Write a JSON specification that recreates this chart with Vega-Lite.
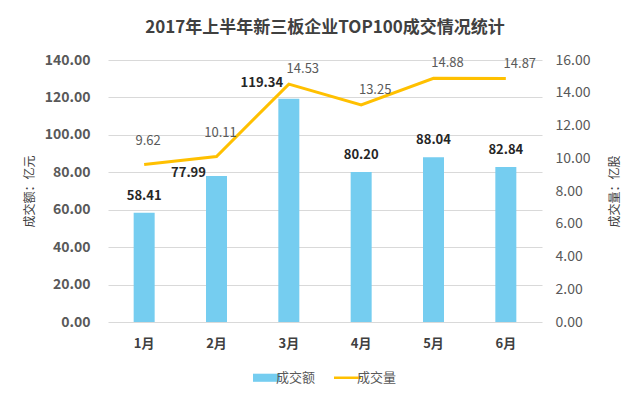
{
  "$schema": "https://vega.github.io/schema/vega-lite/v6.json",
  "width": 434,
  "height": 262,
  "autosize": {"type": "none"},
  "padding": {"left": 108, "top": 60, "right": 98, "bottom": 77},
  "background": "white",
  "title": {
    "text": "2017年上半年新三板企业TOP100成交情况统计",
    "font": "Noto Sans CJK SC",
    "fontSize": 17,
    "fontWeight": "bold",
    "color": "#404040",
    "offset": 16,
    "anchor": "middle"
  },
  "data": {
    "values": [
      {"month": "1月", "amount": 58.41, "volume": 9.62},
      {"month": "2月", "amount": 77.99, "volume": 10.11},
      {"month": "3月", "amount": 119.34, "volume": 14.53},
      {"month": "4月", "amount": 80.20, "volume": 13.25},
      {"month": "5月", "amount": 88.04, "volume": 14.88},
      {"month": "6月", "amount": 82.84, "volume": 14.87}
    ]
  },
  "config": {
    "font": "Noto Sans CJK SC",
    "view": {"stroke": null}
  },
  "encoding": {
    "x": {
      "field": "month",
      "type": "nominal",
      "sort": null,
      "scale": {"paddingInner": 0, "paddingOuter": 0},
      "axis": {
        "title": null,
        "labelAngle": 0,
        "labelFont": "Noto Sans CJK SC",
        "labelFontSize": 13,
        "labelFontWeight": "bold",
        "labelColor": "#404040",
        "labelPadding": 15,
        "domain": false,
        "ticks": false
      }
    }
  },
  "layer": [
    {
      "encoding": {
        "y": {
          "field": "amount",
          "type": "quantitative",
          "scale": {"domain": [0, 140]},
          "axis": {
            "title": "成交额：亿元",
            "titleFont": "Noto Sans CJK SC",
            "titleFontSize": 12,
            "titleFontWeight": "normal",
            "titleColor": "#404040",
            "titleAngle": 270,
            "titlePadding": 8,
            "values": [0, 20, 40, 60, 80, 100, 120, 140],
            "format": ".2f",
            "labelOverlap": false,
            "labelFontSize": 14,
            "labelFontWeight": "bold",
            "labelColor": "#595959",
            "labelPadding": 18,
            "grid": true,
            "gridColor": "#d9d9d9",
            "domain": false,
            "ticks": false
          }
        }
      },
      "layer": [
        {
          "mark": {"type": "bar", "width": 21, "color": "#75CDF0"},
          "encoding": {
            "color": {
              "datum": "成交额",
              "type": "nominal",
              "scale": {"domain": ["成交额", "成交量"], "range": ["#75CDF0", "#FFC000"]},
              "legend": {
                "title": null,
                "orient": "none",
                "legendX": 152,
                "legendY": 311,
                "direction": "horizontal",
                "labelFontSize": 13,
                "labelColor": "#595959",
                "labelOffset": 3,
                "columnPadding": 13,
                "symbolSize": 729,
                "encode": {
                  "symbols": {
                    "update": {
                      "shape": {"signal": "datum.value == '成交额' ? 'M-1,-0.3L1,-0.3L1,0.3L-1,0.3Z' : 'M-1,0L1,0'"},
                      "fill": {"signal": "datum.value == '成交额' ? '#75CDF0' : 'transparent'"},
                      "stroke": {"signal": "datum.value == '成交额' ? '#75CDF0' : '#FFC000'"},
                      "strokeWidth": {"signal": "datum.value == '成交额' ? 0 : 2.5"},
                      "opacity": {"value": 1}
                    }
                  }
                }
              }
            }
          }
        },
        {
          "transform": [{"filter": "datum.month != '2月' && datum.month != '3月'"}],
          "mark": {"type": "text", "dy": -10, "fontSize": 13, "fontWeight": "bold", "color": "#262626", "baseline": "bottom"},
          "encoding": {
            "text": {"field": "amount", "type": "quantitative", "format": ".2f"}
          }
        },
        {
          "transform": [{"filter": "datum.month == '2月'"}],
          "mark": {"type": "text", "dy": 4, "dx": -28, "fontSize": 13, "fontWeight": "bold", "color": "#262626", "baseline": "bottom"},
          "encoding": {
            "text": {"field": "amount", "type": "quantitative", "format": ".2f"}
          }
        },
        {
          "transform": [{"filter": "datum.month == '3月'"}],
          "mark": {"type": "text", "dy": -9, "dx": -27, "fontSize": 13, "fontWeight": "bold", "color": "#262626", "baseline": "bottom"},
          "encoding": {
            "text": {"field": "amount", "type": "quantitative", "format": ".2f"}
          }
        }
      ]
    },
    {
      "encoding": {
        "y": {
          "field": "volume",
          "type": "quantitative",
          "scale": {"domain": [0, 16]},
          "axis": {
            "orient": "right",
            "title": "成交量：亿股",
            "titleFont": "Noto Sans CJK SC",
            "titleFontSize": 12,
            "titleFontWeight": "normal",
            "titleColor": "#404040",
            "titleAngle": 270,
            "titlePadding": 32,
            "values": [0, 2, 4, 6, 8, 10, 12, 14, 16],
            "format": ".2f",
            "labelOverlap": false,
            "labelFontSize": 14,
            "labelColor": "#595959",
            "labelPadding": 13,
            "grid": false,
            "domain": false,
            "ticks": false
          }
        }
      },
      "layer": [
        {
          "mark": {"type": "line", "color": "#FFC000", "strokeWidth": 3},
          "encoding": {
            "color": {"datum": "成交量", "type": "nominal"}
          }
        },
        {
          "transform": [{"filter": "datum.month == '1月' || datum.month == '2月'"}],
          "mark": {"type": "text", "dy": -16, "dx": 4, "fontSize": 13, "color": "#595959", "baseline": "bottom"},
          "encoding": {
            "text": {"field": "volume", "type": "quantitative", "format": ".2f"}
          }
        },
        {
          "transform": [{"filter": "datum.month != '1月' && datum.month != '2月'"}],
          "mark": {"type": "text", "dy": -8, "dx": 14, "fontSize": 13, "color": "#595959", "baseline": "bottom"},
          "encoding": {
            "text": {"field": "volume", "type": "quantitative", "format": ".2f"}
          }
        }
      ]
    }
  ],
  "resolve": {"scale": {"y": "independent"}}
}
